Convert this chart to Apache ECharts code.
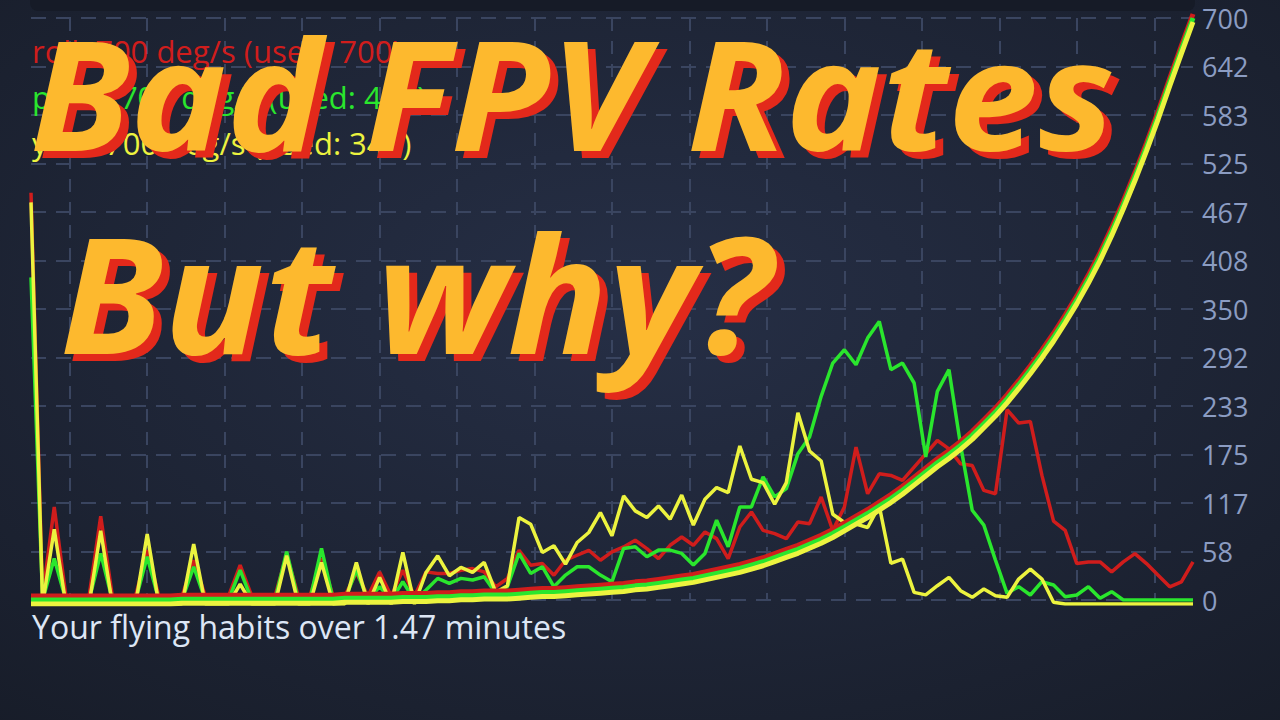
<!DOCTYPE html>
<html><head><meta charset="utf-8">
<script src="https://cdn.jsdelivr.net/npm/echarts@6/dist/echarts.min.js"></script>
<style>html,body{margin:0;padding:0;background:#1d2436;}#c{width:1280px;height:720px;}</style>
</head><body><div id="c"></div>
<script>
// sample index (101 samples over 1.47 minutes)
const samples = Array.from({length: 101}, (_, i) => String(i));

// stick-rate traces (deg/s)
const roll = [485,0,107,0,0,0,96,0,0,0,55,0,0,0,43,0,0,0,37,0,0,0,50,0,0,45,0,0,28,0,29,0,31,0,
  29,27,27,31,33,29,11,21,55,37,39,25,43,49,55,43,53,59,67,57,45,61,71,61,77,69,45,83,101,79,75,69,89,87,119,79,
  107,179,123,147,145,139,155,171,187,177,159,157,127,123,224,208,210,145,90,79,39,41,41,29,41,51,39,25,11,17,41];
const pitch = [388,0,50,0,0,0,56,0,0,0,52,0,0,0,40,0,0,0,36,0,0,0,58,0,0,62,0,0,36,0,16,0,22,0,
  12,26,20,26,24,28,8,16,56,32,40,16,30,40,40,30,22,62,64,52,60,60,56,42,56,96,64,112,112,148,124,134,176,196,245,285,
  301,283,315,335,277,285,261,172,251,277,186,108,90,48,8,16,6,22,18,4,6,16,2,10,0,0,0,0,0,0,0];
const yaw = [483,0,90,0,0,0,88,0,0,0,84,0,0,0,72,0,0,0,24,0,0,0,58,0,0,50,0,0,50,0,32,0,62,0,
  38,58,34,44,38,50,14,22,104,96,62,70,48,74,86,110,82,130,112,104,118,102,131,95,126,140,134,190,150,146,120,146,230,184,172,108,
  98,96,92,118,49,54,14,11,22,32,16,8,18,10,8,30,42,30,2,0,0,0,0,0,0,0,0,0,0,0,0];
// rate curve (same for all three axes, 700 deg/s max)
const rateCurve = [0,0,0,0,0,0,0,0,0,0,0,0,0,1,1,1,1,1,1,1,1,1,1,1,1,1,1,2,2,2,2,2,
  3,3,3,4,4,5,5,6,6,6,7,8,9,9,10,11,12,13,14,15,17,18,20,22,24,26,29,32,35,38,42,46,51,56,61,67,73,80,
  88,96,104,113,122,132,143,154,165,175,186,198,212,226,242,259,277,296,316,338,361,386,413,443,475,509,545,583,623,662,700];

const axisNames = ['roll', 'pitch', 'yaw'];
const axisRates = [700, 700, 700];
const axisUsed = [700, 415, 342];
const axisColors = ['#d01d1c', '#2ae62d', '#ecf33f'];
const yMax = 700, ySteps = 12;
const titleLines = ['Bad FPV Rates', 'But why?'];
const footer = 'Your flying habits over 1.47 minutes';

const traces = [roll, pitch, yaw];
const offsets = [-4, 0, 4];
const grids = offsets.map(o => ({left: 31, right: 87, top: 18 + o, bottom: 120 - o}));

const xAxes = offsets.map((o, i) => ({
  type: 'category', gridIndex: i, data: samples, boundaryGap: false, show: false
}));
xAxes.push({
  type: 'value', gridIndex: 1, min: 0, max: 30, interval: 1,
  axisLine: {show: false}, axisTick: {show: false}, axisLabel: {show: false},
  splitLine: {show: true, lineStyle: {color: ['rgba(0,0,0,0)', '#3a4560'], type: [13, 10], width: 2}}
});
const yAxes = offsets.map((o, i) => i === 1 ? ({
  type: 'value', gridIndex: 1, position: 'right', min: 0, max: yMax, interval: yMax / ySteps,
  axisLine: {show: false}, axisTick: {show: false},
  axisLabel: {color: '#8b9cc2', fontSize: 27, fontFamily: 'Open Sans', margin: 9,
    formatter: v => String(Math.round(v))},
  splitLine: {show: true, lineStyle: {color: '#3a4560', type: [15, 10], width: 2}}
}) : ({type: 'value', gridIndex: i, min: 0, max: yMax, show: false}));

const series = [];
traces.forEach((d, i) => series.push({
  name: axisNames[i], type: 'line', xAxisIndex: i, yAxisIndex: i, data: d,
  showSymbol: false, symbol: 'none', lineStyle: {color: axisColors[i], width: 3.5}, z: 2
}));
traces.forEach((d, i) => series.push({
  name: axisNames[i] + ' rate', type: 'line', xAxisIndex: i, yAxisIndex: i, data: rateCurve,
  showSymbol: false, symbol: 'none', lineStyle: {color: axisColors[i], width: 5}, z: 3
}));

const graphics = [
  {type: 'rect', left: 30, top: -10, shape: {width: 1165, height: 21, r: 8}, style: {fill: '#161b27'}, z: 1}
];
axisNames.forEach((n, i) => graphics.push({
  type: 'text', left: 32, top: 35 + i * 46, z: 5,
  style: {text: n + ': ' + axisRates[i] + ' deg/s (used: ' + axisUsed[i] + ')', fill: axisColors[i],
    font: '31px "Open Sans"'}
}));
graphics.push({type: 'text', left: 32, top: 610, z: 5,
  style: {text: footer, fill: '#dde6f5', font: '32px "Open Sans"'}});
// title lines: [x, y, fontSize, scaleX]
const titleLayout = [[30, 16, 152, 1.065], [60, 210, 162, 1.03]];
titleLines.forEach((t, i) => {
  const [x, y, fs, sx] = titleLayout[i];
  const font = 'italic 700 ' + fs + 'px "Open Sans"';
  graphics.push({type: 'text', x: x + 8, y: y + 7, scaleX: sx, z: 10,
    style: {text: t, fill: '#e3291b', font: font, verticalAlign: 'top', align: 'left'}});
  graphics.push({type: 'text', x: x, y: y, scaleX: sx, z: 11,
    style: {text: t, fill: '#fdb92e', font: font, verticalAlign: 'top', align: 'left'}});
});

const chart = echarts.init(document.getElementById('c'), null, {renderer: 'svg'});
chart.setOption({
  animation: false,
  backgroundColor: {type: 'radial', x: 0.5, y: 0.42, r: 0.8,
    colorStops: [{offset: 0, color: '#262f46'}, {offset: 1, color: '#171c28'}]},
  grid: grids, xAxis: xAxes, yAxis: yAxes, series: series, graphic: graphics
});
</script></body></html>
